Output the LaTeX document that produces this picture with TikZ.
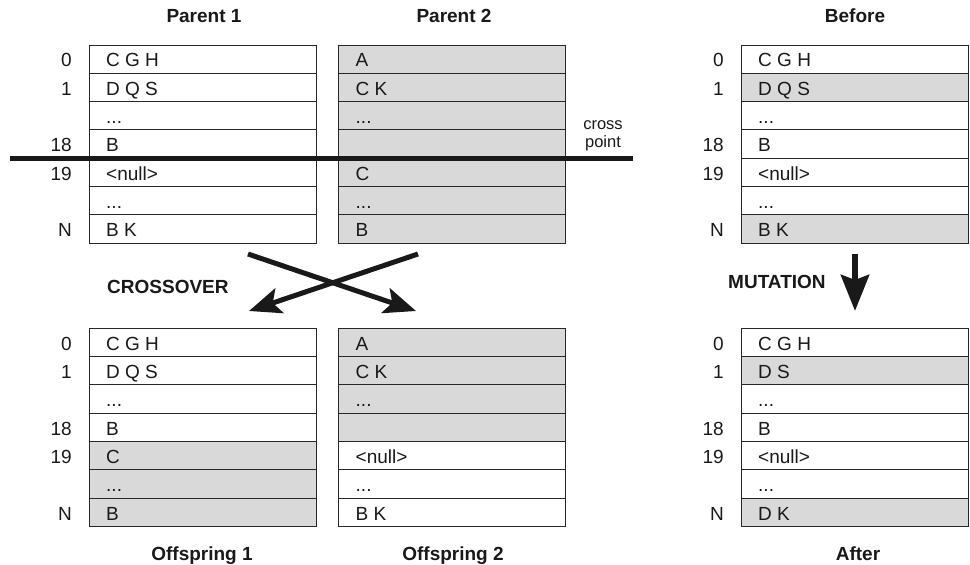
\documentclass[tikz,border=0pt]{standalone}
\usepackage{fontspec}
\setmainfont{Liberation Sans}
\usetikzlibrary{arrows.meta}
\definecolor{cellgray}{RGB}{217,217,217}
\definecolor{edge}{RGB}{40,40,40}
\newcommand\tdots{...}
\tikzset{
  rowbox/.style={draw=edge, line width=1pt, minimum width=227pt, minimum height=28.33pt,
                 inner sep=0pt, outer sep=0pt, anchor=north west},
  celltext/.style={anchor=base west, inner sep=0pt, font=\fontsize{19}{22}\selectfont, text=black!90},
  idxtext/.style={anchor=base east, inner sep=0pt, font=\fontsize{19}{22}\selectfont, text=black!90},
  titletext/.style={anchor=base, inner sep=0pt, font=\bfseries\fontsize{19}{22}\selectfont, text=black!90},
  bigarrow/.style={line width=5pt, draw=black!90, -{Stealth[length=32pt,width=26pt,inset=7pt]}},
}
\newcommand\drawtab[4]{%
  \foreach \i/\t/\f in {#4} {
    \node[rowbox, fill=\f] (#1-\i) at (#2,{#3+\i*28.33}) {};
    \node[celltext] (#1-\i-t) at ([shift={(17pt,6.6pt)}]#1-\i.south west) {\t};
  }}
\newcommand\drawidx[1]{%
  \foreach \i/\n in {0/0,1/1,3/18,4/19,6/N} {
    \node[idxtext] (#1-\i-n) at ([shift={(-17pt,6.6pt)}]#1-\i.south west) {\n};
  }}
\begin{document}
\begin{tikzpicture}[x=1pt,y=-1pt]
\useasboundingbox (0,0) rectangle (970,565);
% top tables
\drawtab{pa}{89}{45}{0/C G H/white,1/D Q S/white,2/\tdots/white,3/B/white,4/<null>/white,5/\tdots/white,6/B K/white}
\drawidx{pa}
\drawtab{pb}{338.5}{45}{0/A/cellgray,1/C K/cellgray,2/\tdots/cellgray,3/{}/cellgray,4/C/cellgray,5/\tdots/cellgray,6/B/cellgray}
\drawtab{bf}{741}{45}{0/C G H/white,1/D Q S/cellgray,2/\tdots/white,3/B/white,4/<null>/white,5/\tdots/white,6/B K/cellgray}
\drawidx{bf}
% bottom tables
\drawtab{oa}{89}{328.3}{0/C G H/white,1/D Q S/white,2/\tdots/white,3/B/white,4/C/cellgray,5/\tdots/cellgray,6/B/cellgray}
\drawidx{oa}
\drawtab{ob}{338.5}{328.3}{0/A/cellgray,1/C K/cellgray,2/\tdots/cellgray,3/{}/cellgray,4/<null>/white,5/\tdots/white,6/B K/white}
\drawtab{af}{741}{328.3}{0/C G H/white,1/D S/cellgray,2/\tdots/white,3/B/white,4/<null>/white,5/\tdots/white,6/D K/cellgray}
\drawidx{af}
% titles
\node[titletext] (tpa) at (204,22.7) {Parent 1};
\node[titletext] (tpb) at (454,22.7) {Parent 2};
\node[titletext] (tbf) at (855,22.7) {Before};
\node[titletext] (toa) at (202,560) {Offspring 1};
\node[titletext] (tob) at (453,560) {Offspring 2};
\node[titletext] (taf) at (858,560) {After};
% cross point line
\coordinate (cl) at (10,158);
\coordinate (cr) at (633,158);
\draw[line width=5pt, draw=black!90] (cl) -- (cr);
\node[anchor=base, inner sep=0pt, align=center, font=\fontsize{16.5}{17.5}\selectfont, text=black!90] (cp) at (603,147) {cross\\point};
% crossover arrows
\coordinate (x1s) at (248,254);
\coordinate (x1e) at (416,311);
\coordinate (x2s) at (418,254);
\coordinate (x2e) at (249,311);
\draw[bigarrow] (x1s) -- (x1e);
\draw[bigarrow] (x2s) -- (x2e);
\node[titletext, anchor=base west] (xo) at (107,293.3) {CROSSOVER};
% mutation arrow
\coordinate (ms) at (855,254);
\coordinate (me) at (855,311);
\draw[bigarrow, line width=6.5pt, -{Stealth[length=36pt,width=28pt,inset=5pt]}] (ms) -- (me);
\node[titletext, anchor=base west] (mu) at (728,288.3) {MUTATION};
\end{tikzpicture}
\end{document}
